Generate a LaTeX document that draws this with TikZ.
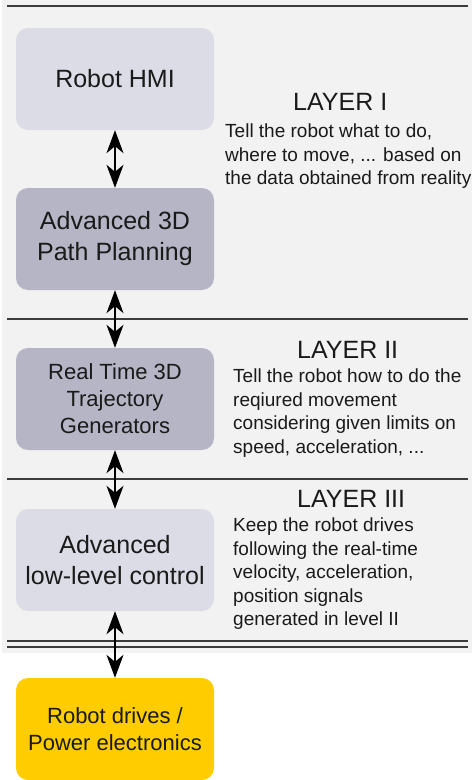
\documentclass[tikz,border=0pt]{standalone}
\usepackage{fontspec}
\setmainfont{Liberation Sans}
\usetikzlibrary{arrows.meta}
\definecolor{panel}{HTML}{F2F2F2}
\definecolor{lightbox}{HTML}{DCDCE6}
\definecolor{darkbox}{HTML}{B5B5C5}
\definecolor{drivebox}{HTML}{FFCC00}
\definecolor{rule}{HTML}{3C3C3C}
\definecolor{ink}{HTML}{1A1A1A}
\tikzset{
  blk/.style={rounded corners=12pt, minimum width=198pt, minimum height=102pt, inner sep=0pt, align=center, text=ink},
  bigtext/.style={font=\fontsize{25}{31}\selectfont},
  midtext/.style={font=\fontsize{22}{27}\selectfont},
  sep/.style={draw=rule, line width=2pt},
  heading/.style={anchor=base west, inner sep=0pt, text=ink, font=\fontsize{25}{30}\selectfont},
  desc/.style={anchor=north west, inner sep=0pt, align=left, text=ink, font=\fontsize{19}{23.4}\selectfont},
  link/.style={{Stealth[length=23pt,width=17pt,inset=7pt]}-{Stealth[length=23pt,width=17pt,inset=7pt]}, line width=1.3pt, black}
}
\begin{document}
\begin{tikzpicture}[x=1pt,y=-1pt]
\clip (0,0) rectangle (474,780);
\useasboundingbox (0,0) rectangle (474,780);
\fill[panel] (2,0) rectangle (472,653);
% separators
\draw[sep] (7,5.5) coordinate (t1) -- (468,5.5) coordinate (t2);
\draw[sep] (7,319) coordinate (s1a) -- (468,319) coordinate (s1b);
\draw[sep] (7,479) coordinate (s2a) -- (468,479) coordinate (s2b);
\draw[sep] (7,641) coordinate (s3a) -- (468,641) coordinate (s3b);
\draw[sep] (7,647) coordinate (s4a) -- (468,647) coordinate (s4b);
% boxes
\node[blk, bigtext, fill=lightbox] (hmi) at (115,79) {Robot HMI};
\node[blk, bigtext, fill=darkbox] (path) at (115,239) {Advanced 3D\\Path Planning};
\node[blk, midtext, fill=darkbox] (traj) at (115,399) {Real Time 3D\\Trajectory\\Generators};
\node[blk, bigtext, fill=lightbox] (low) at (115,560) {Advanced\\low-level control};
\node[blk, midtext, fill=drivebox] (drv) at (115,729) {Robot drives /\\Power electronics};
% arrows
\draw[link] (hmi.south) -- (path.north);
\draw[link] (path.south) -- (traj.north);
\draw[link] (traj.south) -- (low.north);
\draw[link] (low.south) -- (drv.north);
% layer texts
\node[heading] (l1) at (293,110) {LAYER I};
\node[desc] (d1) at (225,124) {Tell the robot what to do,\\where to move, ... based on\\the data obtained from reality};
\node[heading] (l2) at (297,358) {LAYER II};
\node[desc] (d2) at (233,369) {Tell the robot how to do the\\reqiured movement\\considering given limits on\\speed, acceleration, ...};
\node[heading] (l3) at (297,507) {LAYER III};
\node[desc] (d3) at (233,518) {Keep the robot drives\\following the real-time\\velocity, acceleration,\\position signals\\generated in level II};
\end{tikzpicture}
\end{document}
